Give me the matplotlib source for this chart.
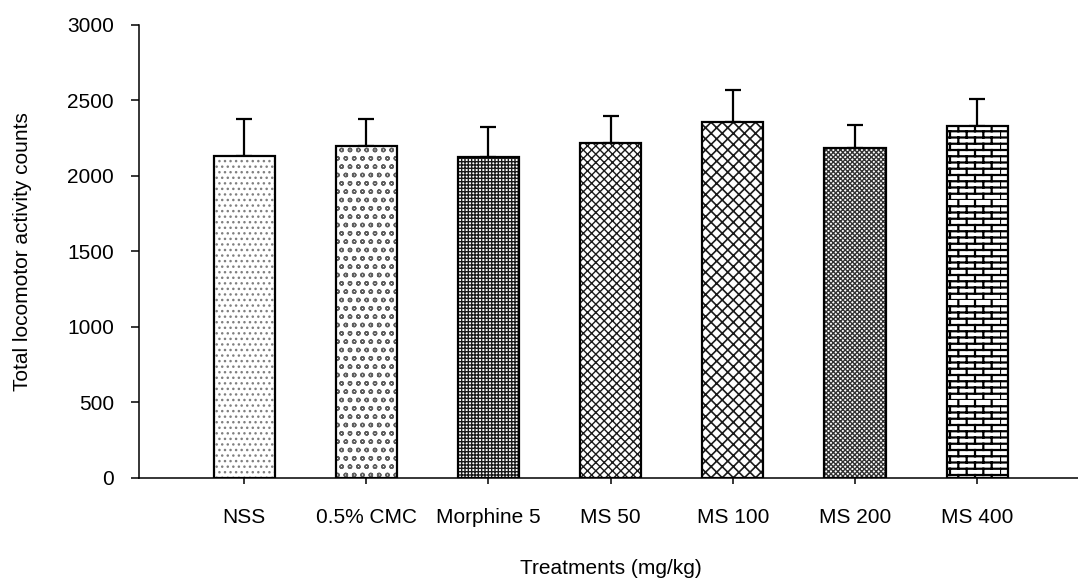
import warnings
import numpy as np
import matplotlib
matplotlib.use("Agg")
import matplotlib.pyplot as plt
from matplotlib import hatch as mhatch
from matplotlib.path import Path

warnings.filterwarnings("ignore")

treatments = ["NSS", "0.5% CMC", "Morphine 5", "MS 50", "MS 100", "MS 200", "MS 400"]
mean_counts = [2135, 2200, 2125, 2220, 2360, 2185, 2330]
sem_counts = [245, 180, 200, 180, 210, 150, 180]


class BrickHatch(mhatch.HatchPatternBase):
    """Running-bond brick pattern, selected with 'b' in the hatch string."""

    def __init__(self, hatch, density):
        n = hatch.count("b")
        self.num_rows = 8 * n
        self.num_cols = 3 * n
        self.num_vertices = self.num_rows * (2 + 2 * self.num_cols) if n else 0

    def set_vertices_and_codes(self, vertices, codes):
        k = 0
        dy = 1.0 / self.num_rows
        for i in range(self.num_rows):
            y0 = i * dy
            vertices[k] = (0.0, y0)
            vertices[k + 1] = (1.0, y0)
            codes[k] = Path.MOVETO
            codes[k + 1] = Path.LINETO
            k += 2
            shift = 0.5 if i % 2 else 0.0
            for j in range(self.num_cols):
                x = (j + shift) / self.num_cols
                vertices[k] = (x, y0)
                vertices[k + 1] = (x, y0 + dy)
                codes[k] = Path.MOVETO
                codes[k + 1] = Path.LINETO
                k += 2


mhatch._hatch_types.append(BrickHatch)

hatches = ["...", "oo", "+++++", "xxxx", "xxx", "xxxxxxx", "bb"]
hatch_colors = ["#808080", "#606060", "#1a1a1a", "#1a1a1a", "#1a1a1a", "#333333", "#000000"]
hatch_widths = [1.0, 1.0, 1.0, 1.0, 1.2, 1.0, 1.6]

plt.rcParams["font.family"] = ["Liberation Sans", "DejaVu Sans"]

fig = plt.figure(figsize=(10.78, 5.81), dpi=100)
ax = fig.add_axes([0.1289, 0.1773, 0.875, 0.7797])

x = np.arange(len(treatments))

# hatched fill first, then a plain black outline on top
for xi, h, hc, hw, m in zip(x, hatches, hatch_colors, hatch_widths, mean_counts):
    with plt.rc_context({"hatch.linewidth": hw}):
        bars = ax.bar(xi, m, width=0.5, color="white", edgecolor=hc, hatch=h,
                      linewidth=0, zorder=2)
    for b in bars:
        if hasattr(b, "set_hatch_linewidth"):
            b.set_hatch_linewidth(hw)
ax.bar(x, mean_counts, width=0.5, fill=False, edgecolor="black", linewidth=1.6, zorder=3)

ax.errorbar(x, mean_counts, yerr=[np.zeros(len(x)), sem_counts], fmt="none",
            ecolor="black", elinewidth=1.6, capsize=6, capthick=1.6, zorder=1)

ax.set_xlim(-0.861, 6.86)
ax.set_ylim(0, 3000)
ax.set_yticks(np.arange(0, 3001, 500))
ax.set_xticks(x)
ax.set_xticklabels(treatments)

for side in ("top", "right"):
    ax.spines[side].set_visible(False)
for side in ("left", "bottom"):
    ax.spines[side].set_linewidth(1.1)

ax.tick_params(axis="y", direction="out", length=6, width=1.1, pad=12, labelsize=15)
ax.tick_params(axis="x", direction="out", length=4.5, width=1.1, pad=17, labelsize=15)

ax.set_ylabel("Total locomotor activity counts", fontsize=15, labelpad=25)
ax.set_xlabel("Treatments (mg/kg)", fontsize=15, labelpad=23)

fig.savefig("out.png", dpi=100)
